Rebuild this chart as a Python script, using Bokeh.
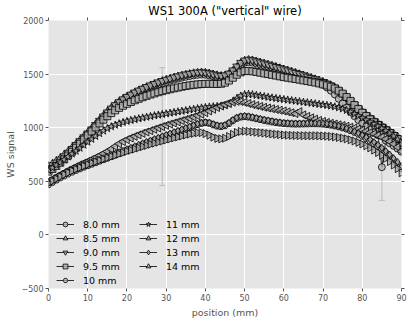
from bokeh.plotting import figure
from bokeh.models import (ColumnDataSource, Legend, LegendItem, LinearAxis, Whisker,
                          FixedTicker, TeeHead, Range1d)
from bokeh.embed import file_html
from bokeh.resources import INLINE

positions = list(range(0, 91))

v_8_0 = [600, 625, 652, 682, 714, 748, 784, 822, 860, 898,
         936, 975, 1015, 1055, 1094, 1132, 1167, 1198, 1226, 1251,
         1274, 1295, 1314, 1332, 1348, 1363, 1377, 1390, 1403, 1415,
         1427, 1438, 1448, 1458, 1467, 1475, 1482, 1488, 1493, 1496,
         1494, 1488, 1480, 1472, 1468, 1472, 1488, 1516, 1550, 1583,
         1606, 1612, 1608, 1599, 1589, 1579, 1569, 1559, 1548, 1537,
         1526, 1515, 1504, 1493, 1482, 1471, 1459, 1447, 1435, 1420,
         1400, 1375, 1345, 1310, 1270, 1228, 1186, 1146, 1108, 1072,
         1040, 1010, 982, 956, 930, 632, 880, 855, 830, 805, 775]
v_8_5 = [640, 662, 688, 715, 745, 776, 810, 845, 880, 915,
         952, 990, 1030, 1070, 1110, 1148, 1182, 1212, 1240, 1265,
         1287, 1307, 1326, 1344, 1360, 1376, 1391, 1405, 1419, 1432,
         1444, 1455, 1465, 1475, 1484, 1492, 1499, 1506, 1511, 1514,
         1511, 1504, 1495, 1487, 1481, 1484, 1499, 1528, 1563, 1598,
         1622, 1630, 1626, 1616, 1606, 1596, 1586, 1576, 1565, 1553,
         1542, 1531, 1520, 1509, 1497, 1486, 1474, 1462, 1450, 1438,
         1425, 1410, 1392, 1370, 1343, 1312, 1278, 1243, 1208, 1175,
         1145, 1116, 1089, 1063, 1039, 1015, 991, 966, 941, 914, 880]
v_9_0 = [625, 650, 676, 704, 735, 768, 803, 840, 876, 912,
         948, 986, 1026, 1066, 1106, 1144, 1180, 1212, 1240, 1266,
         1289, 1310, 1330, 1348, 1365, 1381, 1396, 1410, 1424, 1437,
         1449, 1460, 1471, 1481, 1490, 1498, 1505, 1511, 1516, 1518,
         1515, 1508, 1499, 1490, 1485, 1490, 1506, 1536, 1572, 1606,
         1628, 1636, 1630, 1620, 1610, 1600, 1590, 1579, 1568, 1557,
         1546, 1535, 1524, 1513, 1502, 1490, 1478, 1466, 1454, 1441,
         1428, 1413, 1396, 1375, 1349, 1318, 1284, 1249, 1214, 1180,
         1148, 1118, 1090, 1063, 1037, 1012, 986, 960, 933, 905, 865]
v_9_5 = [590, 615, 643, 673, 705, 740, 776, 813, 851, 889,
         927, 965, 1003, 1040, 1075, 1107, 1136, 1162, 1185, 1205,
         1223, 1240, 1256, 1270, 1284, 1297, 1309, 1320, 1331, 1341,
         1350, 1359, 1367, 1375, 1382, 1389, 1395, 1400, 1404, 1407,
         1409, 1410, 1409, 1408, 1410, 1420, 1440, 1466, 1494, 1516,
         1528, 1530, 1526, 1520, 1513, 1506, 1500, 1493, 1486, 1479,
         1472, 1466, 1460, 1454, 1448, 1441, 1435, 1428, 1421, 1413,
         1404, 1394, 1382, 1366, 1345, 1318, 1286, 1250, 1212, 1175,
         1140, 1108, 1078, 1050, 1024, 999, 975, 950, 923, 893, 855]
v_10 = [470, 492, 513, 533, 552, 570, 587, 603, 618, 633,
        647, 661, 675, 689, 703, 717, 731, 745, 759, 773,
        787, 801, 815, 829, 843, 857, 870, 883, 896, 909,
        922, 935, 948, 961, 974, 988, 1002, 1016, 1030, 1042,
        1048, 1042, 1028, 1016, 1012, 1020, 1040, 1066, 1088, 1100,
        1104, 1100, 1093, 1085, 1077, 1069, 1062, 1055, 1049, 1044,
        1040, 1037, 1035, 1034, 1034, 1035, 1036, 1037, 1037, 1036,
        1034, 1030, 1025, 1018, 1010, 1000, 988, 974, 958, 940,
        921, 900, 877, 852, 825, 796, 765, 732, 697, 660, 620]
v_11 = [600, 625, 650, 676, 702, 728, 755, 782, 810, 838,
        866, 893, 920, 946, 970, 992, 1010, 1025, 1038, 1050,
        1060, 1069, 1077, 1085, 1092, 1099, 1106, 1113, 1119, 1125,
        1131, 1137, 1143, 1149, 1155, 1161, 1167, 1173, 1179, 1185,
        1190, 1194, 1197, 1200, 1204, 1210, 1222, 1245, 1272, 1296,
        1310, 1313, 1309, 1303, 1297, 1291, 1285, 1279, 1274, 1269,
        1264, 1259, 1254, 1249, 1244, 1239, 1234, 1229, 1224, 1219,
        1214, 1209, 1203, 1196, 1187, 1176, 1162, 1146, 1128, 1109,
        1090, 1071, 1052, 1033, 1013, 993, 971, 947, 920, 890, 850]
v_12 = [500, 520, 540, 560, 580, 600, 618, 636, 654, 670,
        686, 703, 720, 738, 757, 778, 800, 825, 850, 870,
        888, 904, 919, 933, 947, 960, 972, 985, 997, 1010,
        1022, 1033, 1044, 1055, 1066, 1077, 1088, 1100, 1112, 1126,
        1140, 1156, 1172, 1188, 1202, 1214, 1226, 1238, 1246, 1244,
        1236, 1226, 1216, 1207, 1199, 1191, 1184, 1177, 1170, 1163,
        1156, 1148, 1140, 1132, 1150, 1120, 1105, 1092, 1080, 1068,
        1058, 1049, 1041, 1034, 1027, 1020, 1013, 1005, 997, 988,
        978, 967, 955, 942, 928, 912, 894, 873, 849, 820, 780]
v_13 = [490, 511, 531, 550, 568, 585, 601, 616, 631, 645,
        659, 673, 687, 701, 715, 729, 743, 757, 771, 785,
        799, 813, 827, 841, 855, 868, 881, 894, 907, 920,
        933, 946, 959, 972, 985, 998, 1011, 1024, 1036, 1046,
        1052, 1047, 1034, 1022, 1018, 1026, 1046, 1072, 1094, 1106,
        1110, 1106, 1099, 1091, 1083, 1075, 1068, 1061, 1055, 1050,
        1046, 1043, 1041, 1040, 1040, 1041, 1042, 1043, 1043, 1042,
        1040, 1036, 1031, 1024, 1016, 1006, 995, 982, 967, 950,
        932, 912, 890, 866, 840, 812, 782, 750, 716, 680, 640]
v_14 = [480, 502, 523, 543, 562, 580, 597, 613, 628, 642,
        656, 669, 682, 695, 707, 719, 731, 743, 755, 767,
        779, 790, 801, 812, 823, 834, 845, 855, 865, 875,
        885, 895, 905, 914, 923, 932, 940, 947, 952, 954,
        945, 930, 912, 900, 896, 902, 918, 938, 955, 965,
        968, 966, 962, 958, 954, 950, 946, 942, 938, 935,
        932, 930, 928, 927, 926, 925, 925, 925, 925, 924,
        923, 921, 918, 914, 909, 903, 896, 887, 876, 863,
        848, 831, 812, 791, 768, 742, 714, 684, 652, 618, 580]

labels = ["8.0 mm", "8.5 mm", "9.0 mm", "9.5 mm", "10 mm",
          "11 mm", "12 mm", "13 mm", "14 mm"]
series = [v_8_0, v_8_5, v_9_0, v_9_5, v_10, v_11, v_12, v_13, v_14]
markers = ["circle", "triangle", "inverted_triangle", "square", "hex",
           "star", "triangle", "diamond", "triangle"]
angles = [0, 0, 0, 0, 0, 0, 1.5708, 0, -1.5708]
sizes = [7, 8, 8, 7, 7, 8, 8, 7, 8]

# visible error bars (position, value, error)
err_pos = [85, 29]
err_val = [632, 1010]
err_size = [310, 550]

x_ticks = [0, 10, 20, 30, 40, 50, 60, 70, 80, 90]
y_ticks = [-500, 0, 500, 1000, 1500, 2000]

FONT = "DejaVu Sans"

p = figure(width=407, height=320, x_range=Range1d(0, 90), y_range=Range1d(-500, 2000),
           output_backend="svg", toolbar_location=None,
           min_border_left=48, min_border_right=6, min_border_top=20, min_border_bottom=27)
p.background_fill_color = "#E5E5E5"
p.border_fill_color = "white"
p.outline_line_color = None

p.title.text = 'WS1 300A ("vertical" wire)'
p.title.align = "center"
p.title.text_font = FONT
p.title.text_font_size = "11.5px"
p.title.text_font_style = "normal"
p.title.text_color = "black"
p.title.standoff = 0

p.xgrid.grid_line_color = "white"
p.ygrid.grid_line_color = "white"
p.xgrid.grid_line_width = 1
p.ygrid.grid_line_width = 1

xt = FixedTicker(ticks=x_ticks)
yt = FixedTicker(ticks=y_ticks)
p.xaxis.ticker = xt
p.yaxis.ticker = yt
p.xgrid.ticker = xt
p.ygrid.ticker = yt
p.yaxis.major_label_overrides = {-500: "\u2212500"}

p.xaxis.axis_label = "position (mm)"
p.yaxis.axis_label = "WS signal"

for ax in [p.xaxis[0], p.yaxis[0]]:
    ax.axis_line_color = None
    ax.major_tick_line_color = "#555555"
    ax.major_tick_out = 3
    ax.major_tick_in = 0
    ax.minor_tick_line_color = None
    ax.major_label_text_font = FONT
    ax.major_label_text_font_size = "8px"
    ax.major_label_text_color = "#555555"
    ax.axis_label_text_font = FONT
    ax.axis_label_text_font_size = "9.5px"
    ax.axis_label_text_font_style = "normal"
    ax.axis_label_text_color = "#555555"
    ax.major_label_standoff = 2
    ax.axis_label_standoff = 3

for loc, tk, vals in [("right", yt, y_ticks), ("above", xt, x_ticks)]:
    ax = LinearAxis(ticker=tk, axis_line_color=None, major_tick_line_color="#555555",
                    major_tick_out=3, major_tick_in=0, minor_tick_line_color=None,
                    major_label_overrides={v: "" for v in vals},
                    major_label_text_font_size="8px", major_label_standoff=0)
    p.add_layout(ax, loc)

items = []
for lab, vals, mk, ang, sz in zip(labels, series, markers, angles, sizes):
    src = ColumnDataSource(dict(x=positions, y=vals))
    lr = p.line("x", "y", source=src, line_color="black", line_width=0.8)
    sr = p.scatter("x", "y", source=src, marker=mk, angle=ang, size=sz,
                   fill_color="#b0b0b0", fill_alpha=0.8,
                   line_color="black", line_width=0.8)
    items.append(LegendItem(label=lab, renderers=[lr, sr]))

esrc = ColumnDataSource(dict(
    x=err_pos,
    lower=[v - e for v, e in zip(err_val, err_size)],
    upper=[v + e for v, e in zip(err_val, err_size)]))
wh = Whisker(base="x", lower="lower", upper="upper", source=esrc, dimension="height",
             line_color="#bbbbbb", line_width=1,
             upper_head=TeeHead(size=6, line_color="#bbbbbb", line_width=1),
             lower_head=TeeHead(size=6, line_color="#bbbbbb", line_width=1))
p.add_layout(wh)

leg = Legend(items=items, location=(5, -1), nrows=5, orientation="vertical",
             background_fill_alpha=0, border_line_alpha=0,
             label_text_font=FONT, label_text_font_size="9.5px", label_text_color="black",
             glyph_width=18, glyph_height=12, label_height=12, label_width=54,
             label_standoff=9, spacing=2, padding=3, margin=0)
p.add_layout(leg, "center")

open("out.html", "w").write(file_html(p, INLINE))
